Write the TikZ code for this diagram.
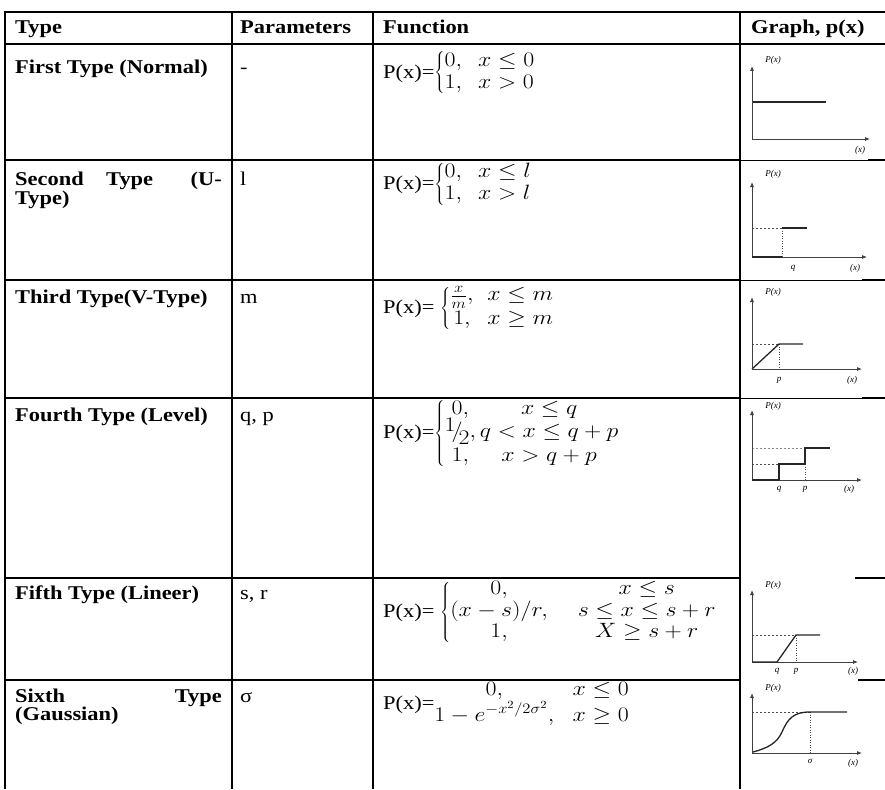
\documentclass[tikz,border=0pt]{standalone}
\usepackage{fontspec}
\setmainfont{Liberation Serif}
\usetikzlibrary{arrows.meta}
\newcommand{\sx}[1]{\scalebox{1.15}[1]{#1}}
\newcommand{\mfs}{\fontsize{21}{20}\selectfont}
\begin{document}
\begin{tikzpicture}[x=1pt,y=-1pt,
  tbl/.style={line width=1.8pt},
  thn/.style={line width=0.8pt},
  cellt/.style={anchor=base west, inner sep=0pt, font=\fontsize{19.5}{17}\selectfont},
  hd/.style={anchor=base west, inner sep=0pt, font=\fontsize{19.5}{17}\selectfont\bfseries},
  fn/.style={anchor=west, inner sep=0pt, font=\fontsize{19.5}{20}\selectfont},
  ax/.style={line width=0.8pt, draw=black!75, -{Latex[length=5pt,width=4pt]}},
  crv/.style={line width=1.3pt, draw=black!85},
  dsh/.style={line width=0.6pt, draw=black!70, dash pattern=on 2pt off 2pt},
  dotl/.style={line width=0.6pt, draw=black!70, dash pattern=on 1pt off 1.5pt},
  glab/.style={inner sep=0pt, font=\fontsize{9}{9}\selectfont\itshape}
]
\useasboundingbox (0,0) rectangle (885,789);
% table grid
\draw[tbl] (5,12) -- (885,12);
\draw[tbl] (5,44) -- (885,44);
\foreach \yy in {160,280,398,578,680} \draw[tbl] (5,\yy) -- (740,\yy);
\draw[thn] (740,160) -- (868,160);  \draw[tbl] (868,160) -- (885,160);
\draw[thn] (740,280) -- (862,280);  \draw[tbl] (862,280) -- (885,280);
\draw[thn] (740,398) -- (862,398);  \draw[tbl] (862,398) -- (885,398);
\draw[tbl] (855,578) -- (885,578);
\draw[tbl] (858,680) -- (885,680);
\foreach \xx in {5,232,373,740} \draw[tbl] (\xx,11) -- (\xx,789);
% header
\node[hd] (h1) at (15,34) {\sx{Type}};
\node[hd] (h2) at (240,34) {\sx{Parameters}};
\node[hd] (h3) at (383,34) {\sx{Function}};
\node[hd] (h4) at (751,34) {\sx{Graph, p(x)}};
% column 1
\node[hd] (t1) at (15,74) {\sx{First Type (Normal)}};
\node[hd] (t2a) at (15,185) {\sx{Second}};
\node[hd] (t2b) at (106,185) {\sx{Type}};
\node[hd, anchor=base east] (t2c) at (222,185) {\sx{(U-}};
\node[hd] (t2d) at (15,204) {\sx{Type)}};
\node[hd] (t3) at (15,303) {\sx{Third Type(V-Type)}};
\node[hd] (t4) at (15,421) {\sx{Fourth Type (Level)}};
\node[hd] (t5) at (15,599) {\sx{Fifth Type (Lineer)}};
\node[hd] (t6a) at (15,702) {\sx{Sixth}};
\node[hd, anchor=base east] (t6b) at (222,702) {\sx{Type}};
\node[hd] (t6c) at (15,720) {\sx{(Gaussian)}};
% column 2
\node[cellt] (p1) at (240,74) {\sx{-}};
\node[cellt] (p2) at (240,185) {\sx{l}};
\node[cellt] (p3) at (240,303) {\sx{m}};
\node[cellt] (p4) at (240,421) {\sx{q, p}};
\node[cellt] (p5) at (240,599) {\sx{s, r}};
\node[cellt] (p6) at (240,702) {\sx{σ}};
% column 3
\node[fn] (f1) at (383,73) {\sx{P(x)=\mfs$\renewcommand{\arraystretch}{1.08}\left\{\begin{array}{@{}l@{\hspace{14pt}}l@{}}0, & x\le 0\\ 1, & x>0\end{array}\right.$}};
\node[fn] (f2) at (383,184) {\sx{P(x)=\mfs$\renewcommand{\arraystretch}{1.08}\left\{\begin{array}{@{}l@{\hspace{14pt}}l@{}}0, & x\le l\\ 1, & x>l\end{array}\right.$}};
\node[fn] (f3) at (383,308) {\sx{P(x)= \mfs$\renewcommand{\arraystretch}{1.15}\left\{\begin{array}{@{}c@{\hspace{12pt}}l@{}}\frac{x}{m}, & x\le m\\ 1, & x\ge m\end{array}\right.$}};
\node[fn] (f4) at (383,433) {\sx{P(x)=\mfs$\renewcommand{\arraystretch}{1.18}\left\{\begin{array}{@{}c@{\,}c@{}}0, & x\le q\\ \smash{\raisebox{0.3em}{$1$}\!\big/\!\raisebox{-0.3em}{$2$}}, & q<x\le q+p\\ 1, & x>q+p\end{array}\right.$}};
\node[fn] (f5) at (383,612) {\sx{P(x)= \mfs$\renewcommand{\arraystretch}{1.05}\left\{\begin{array}{@{}c@{\hspace{26pt}}c@{}}0, & x\le s\\ (x-s)/r, & s\le x\le s+r\\ 1, & X\ge s+r\end{array}\right.$}};
\node[fn] (f6) at (383,704) {\sx{P(x)=\mfs$\renewcommand{\arraystretch}{1.05}\begin{array}{@{}c@{\hspace{16pt}}l@{}}0, & x\le 0\\[5pt] \smash{1-e^{-x^2/2\sigma^2}}, & x\ge 0\end{array}$}};
% graph 1
\draw[crv] (752,102) -- (826,102);
\draw[ax] (752,140) -- (752,66);
\draw[ax] (752,139) -- (870,139);
\node[glab] (g1y) at (773,60) {P(x)};
\node[glab] (g1x) at (860,150) {(x)};
% graph 2
\draw[dsh] (752,228) -- (782,228);
\draw[dotl] (782,228) -- (782,257);
\draw[crv] (782,228) -- (807,228);
\draw[ax] (752,258) -- (752,182);
\draw[ax] (752,257) -- (867,257);
\draw[crv] (752,257) -- (782,257);
\node[glab] (g2y) at (773,174) {P(x)};
\node[glab] (g2q) at (793,268) {q};
\node[glab] (g2x) at (855,268) {(x)};
% graph 3
\draw[dsh] (752,344) -- (779,344);
\draw[dotl] (779,344) -- (779,369);
\draw[crv] (752,369) -- (779,344) -- (803,344);
\draw[ax] (752,370) -- (752,297);
\draw[ax] (752,369) -- (862,369);
\node[glab] (g3y) at (773,292) {P(x)};
\node[glab] (g3p) at (779,380) {p};
\node[glab] (g3x) at (852,380) {(x)};
% graph 4
\draw[dsh, draw=black!45] (752,448) -- (805,448);
\draw[dsh] (752,464) -- (779,464);
\draw[dotl] (805,464) -- (805,480);
\draw[ax] (752,481) -- (752,410);
\draw[ax] (752,480) -- (862,480);
\draw[crv] (752,480) -- (779,480) -- (779,464) -- (805,464) -- (805,448) -- (830,448);
\node[glab] (g4y) at (773,406) {P(x)};
\node[glab] (g4q) at (779,489) {q};
\node[glab] (g4p) at (805,489) {p};
\node[glab] (g4x) at (849,489) {(x)};
% graph 5
\draw[dsh] (752,635) -- (796,635);
\draw[dotl] (796,635) -- (796,662);
\draw[ax] (752,663) -- (752,590);
\draw[ax] (752,662) -- (858,662);
\draw[crv] (752,662) -- (777,662) -- (796,635) -- (820,635);
\node[glab] (g5y) at (773,585) {P(x)};
\node[glab] (g5q) at (777,671) {q};
\node[glab] (g5p) at (796,671) {p};
\node[glab] (g5x) at (853,671) {(x)};
% graph 6
\draw[dsh] (752,712) -- (810,712);
\draw[dotl] (810,712) -- (810,753);
\draw[ax] (752,754) -- (752,693);
\draw[ax] (752,753) -- (862,753);
\draw[crv] (753,752) .. controls (768,748) and (777,743) .. (782,732) .. controls (788,718) and (794,712) .. (810,712) -- (847,712);
\node[glab] (g6y) at (773,688) {P(x)};
\node[glab] (g6s) at (810,761) {σ};
\node[glab] (g6x) at (853,763) {(x)};
\end{tikzpicture}
\end{document}
